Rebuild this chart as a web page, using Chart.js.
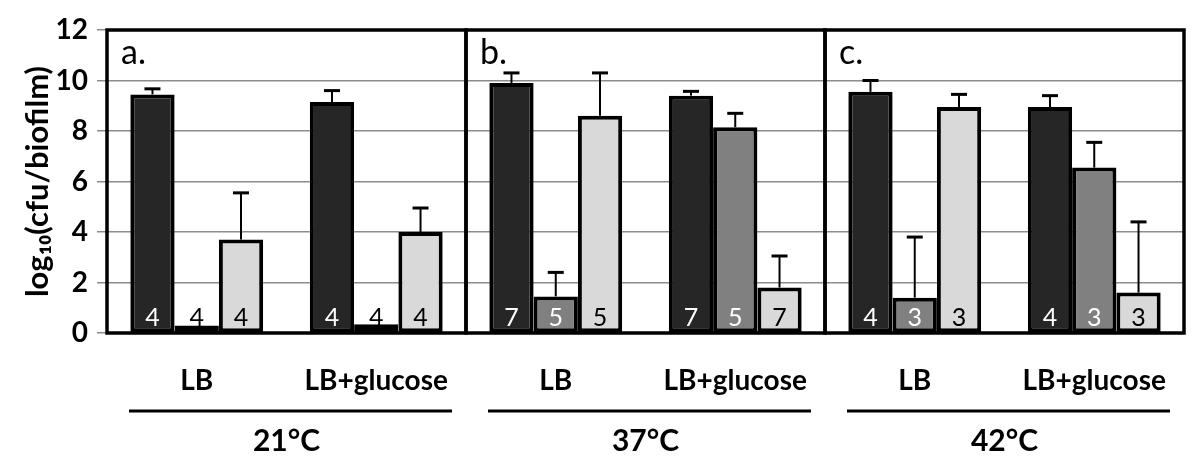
<!DOCTYPE html>
<html>
<head>
<meta charset="utf-8">
<script src="https://cdn.jsdelivr.net/npm/chart.js@4.4.0/dist/chart.umd.min.js"></script>
<style>
  html, body { margin: 0; background: #fff; }
</style>
</head>
<body>
<canvas id="chart" width="1200" height="470"></canvas>
<script>
const categories = ['LB', 'LB+glucose', 'LB', 'LB+glucose', 'LB', 'LB+glucose'];
const temperatures = ['21°C', '37°C', '42°C'];
const panelLetters = ['a.', 'b.', 'c.'];

// three strains per medium, mean log10 cfu and upper error
const darkValues = [9.45, 9.15, 9.9, 9.4, 9.55, 8.95];
const darkErrors = [0.22, 0.45, 0.4, 0.17, 0.45, 0.45];
const darkCounts = [4, 4, 7, 7, 4, 4];

const midValues = [0.3, 0.35, 1.45, 8.15, 1.4, 6.55];
const midErrors = [0, 0, 0.95, 0.55, 2.4, 1.0];
const midCounts = [4, 4, 5, 5, 3, 3];

const lightValues = [3.7, 4.0, 8.6, 1.8, 8.95, 1.6];
const lightErrors = [1.85, 0.95, 1.7, 1.25, 0.5, 2.8];
const lightCounts = [4, 4, 5, 7, 3, 3];

const yTicks = [0, 2, 4, 6, 8, 10, 12];

const FONT = 'Lato, "Open Sans", sans-serif';
const midColors = midValues.map((v, i) => i < 2 ? '#ffffff' : '#808080');

const errorBarPlugin = {
  id: 'errorBars',
  afterDatasetsDraw(chart) {
    const ctx = chart.ctx;
    const y = chart.scales.y;
    const y0 = y.getPixelForValue(0);
    chart.data.datasets.forEach((ds, d) => {
      const meta = chart.getDatasetMeta(d);
      meta.data.forEach((bar, i) => {
        const v = ds.data[i];
        const e = ds.errors[i];
        ctx.save();
        if (e > 0) {
          const top = y.getPixelForValue(v + e);
          ctx.strokeStyle = '#000';
          ctx.lineWidth = 2;
          ctx.beginPath();
          ctx.moveTo(bar.x, y.getPixelForValue(v));
          ctx.lineTo(bar.x, top);
          ctx.stroke();
          ctx.lineWidth = 3;
          ctx.beginPath();
          ctx.moveTo(bar.x - 8, top);
          ctx.lineTo(bar.x + 8, top);
          ctx.stroke();
        }
        const fill = Array.isArray(ds.backgroundColor) ? ds.backgroundColor[i] : ds.backgroundColor;
        ctx.fillStyle = (fill === '#ffffff' || fill === '#d9d9d9') ? '#000' : '#fff';
        ctx.font = '25px ' + FONT;
        ctx.textAlign = 'center';
        ctx.textBaseline = 'alphabetic';
        ctx.fillText(String(ds.counts[i]), bar.x, y0 - 7);
        ctx.restore();
      });
    });
  },
  afterDraw(chart) {
    const ctx = chart.ctx;
    const x = chart.scales.x;
    const y = chart.scales.y;
    const top = y.getPixelForValue(12);
    const bottom = y.getPixelForValue(0);
    const x2 = chart.scales.x2;
    ctx.save();
    ctx.strokeStyle = '#000';
    for (let p = 0; p < 3; p++) {
      const left = x.getPixelForValue(2 * p - 0.5);
      const right = x.getPixelForValue(2 * p + 1.5);
      ctx.lineWidth = 3.5;
      ctx.strokeRect(left, top, right - left, bottom - top);
      ctx.fillStyle = '#000';
      ctx.font = '34px ' + FONT;
      ctx.textAlign = 'left';
      ctx.textBaseline = 'top';
      ctx.fillText(panelLetters[p], left + 14, top + 6);
      // rule under the medium labels
      ctx.lineWidth = 3;
      const ly = x2.top + 12;
      ctx.beginPath();
      ctx.moveTo(left + 22, ly);
      ctx.lineTo(right - 14, ly);
      ctx.stroke();
    }
    ctx.restore();
  }
};

new Chart(document.getElementById('chart'), {
  type: 'bar',
  data: {
    labels: categories,
    datasets: [
      { data: darkValues, errors: darkErrors, counts: darkCounts, backgroundColor: '#262626' },
      { data: midValues, errors: midErrors, counts: midCounts, backgroundColor: midColors },
      { data: lightValues, errors: lightErrors, counts: lightCounts, backgroundColor: '#d9d9d9' }
    ].map(ds => Object.assign(ds, {
      borderColor: '#000',
      borderWidth: 4,
      borderSkipped: false,
      categoryPercentage: 0.74,
      barPercentage: 1.0
    }))
  },
  options: {
    responsive: false,
    animation: false,
    layout: { padding: { left: 6, right: 16, top: 30, bottom: 7 } },
    plugins: { legend: { display: false }, tooltip: { enabled: false } },
    scales: {
      x: {
        afterFit: s => { s.height = 66; },
        grid: { display: false },
        border: { display: false },
        ticks: { color: '#000', font: { family: FONT, size: 28, weight: 'bold' }, padding: 23, maxRotation: 0 }
      },
      x2: {
        type: 'category',
        labels: temperatures,
        position: 'bottom',
        afterFit: s => { s.height = 64; },
        grid: { display: false },
        border: { display: false },
        ticks: { color: '#000', font: { family: FONT, size: 30, weight: 'bold' }, padding: 16, maxRotation: 0 }
      },
      y: {
        min: 0,
        max: 12,
        afterFit: s => { s.width = 101; },
        afterBuildTicks: axis => { axis.ticks = yTicks.map(v => ({ value: v })); },
        grid: { color: '#8c8c8c', lineWidth: 1.5, tickLength: 10 },
        border: { display: false },
        ticks: { color: '#000', font: { family: FONT, size: 28, weight: 'bold' }, padding: 9 },
        title: {
          display: true,
          text: 'log₁₀(cfu/biofilm)',
          color: '#000',
          padding: { top: 13, bottom: 0 },
          font: { family: FONT, size: 31, weight: 'bold' }
        }
      }
    }
  },
  plugins: [errorBarPlugin]
});
</script>
</body>
</html>
